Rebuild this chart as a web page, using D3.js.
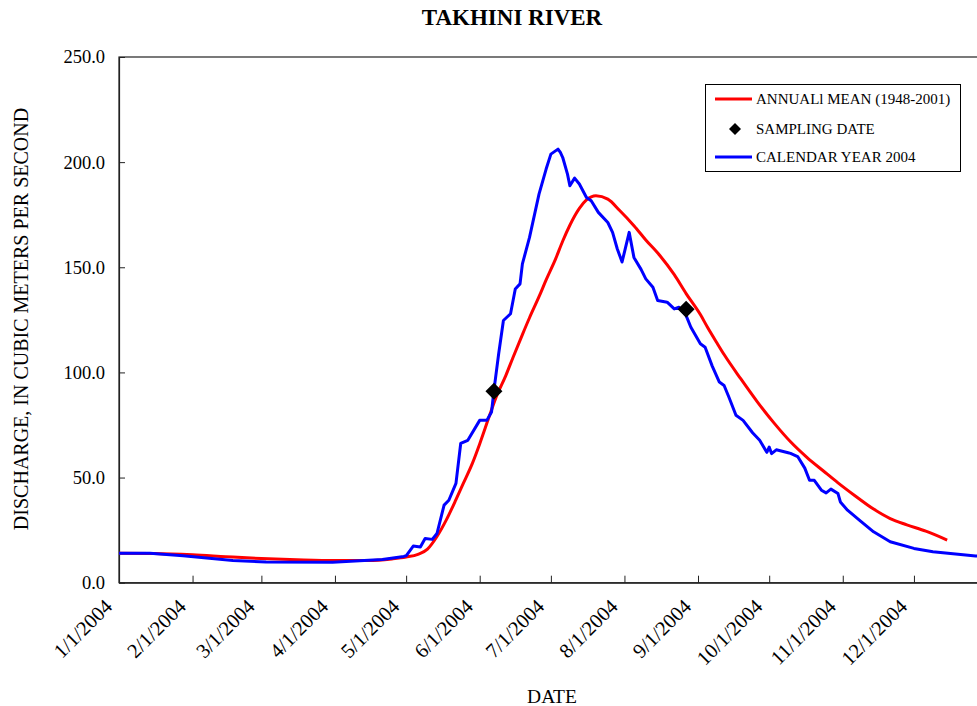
<!DOCTYPE html>
<html>
<head>
<meta charset="utf-8">
<script src="https://cdn.jsdelivr.net/npm/d3@7"></script>
<style>
  html, body { margin: 0; padding: 0; background: #fff; }
  svg { display: block; }
  text { font-family: "Liberation Serif", "Times New Roman", serif; fill: #000; }
</style>
</head>
<body>
<div id="chart"></div>
<script>
// Daily discharge, Takhini River. Days are counted from January 1, 2004 (day 0).
const meanDays = [0, 15, 31, 45, 60, 75, 91, 105, 115, 121, 126, 130, 134, 138, 142, 145, 149, 152, 156, 159,
  163, 166, 170, 173, 177, 180, 184, 187, 190, 194, 197, 201, 206, 211, 217, 222, 228, 234, 239, 245,
  248, 252, 255, 262, 269, 276, 283, 290, 297, 303, 310, 318, 325, 332, 340, 349];
const meanValues = [14.0, 13.9, 13.3, 12.4, 11.5, 10.9, 10.5, 10.5, 11.3, 12.2, 13.5, 16, 22, 30, 39.5, 47, 57, 66, 79, 88.5,
  98.5, 107, 118, 126, 136, 144, 154, 162.5, 170, 178, 182, 184, 182.4, 177, 169.8, 163, 155.5, 146.5, 137.5, 127.5,
  121.5, 114, 108.5, 97, 86, 76, 67, 59.5, 53, 47.5, 41.5, 35, 30.5, 27.5, 24.5, 20.3];

const yearDays = [0, 13, 27, 48, 62, 90, 111, 120, 121, 124, 127, 129, 132, 134, 137, 139, 142, 144, 147, 152,
  155, 157, 158, 160, 162, 165, 167, 169, 170, 173, 177, 180, 182, 185, 186, 187, 189, 190, 192, 194,
  197, 199, 202, 206, 208, 210, 212, 215, 217, 220, 222, 225, 227, 231, 234, 236, 239, 241, 245, 247,
  250, 253, 255, 257, 260, 263, 267, 270, 273, 274, 275, 277, 282, 283, 286, 289, 291, 293, 296, 298,
  300, 303, 304, 307, 312, 318, 325, 335, 343, 361, 365];
const yearValues = [14.0, 14.0, 12.8, 10.6, 9.8, 9.7, 11.0, 12.5, 12.8, 17.4, 17.0, 21.0, 20.6, 23.4, 36.9, 39.2, 47.2, 66.2, 67.7, 77.2,
  77.2, 81.2, 91.5, 108.9, 124.7, 127.9, 139.7, 142.1, 151.6, 164.2, 184.8, 196.7, 203.8, 206.2, 204.6, 202.2, 194.3, 188.8, 192.4, 189.6,
  183.2, 181.6, 176.1, 171.3, 166.6, 158.7, 152.5, 166.6, 154.7, 149.0, 144.5, 140.5, 134.2, 133.4, 130.2, 131.0, 127.0, 121.5, 113.6, 112.0,
  103.0, 95.4, 93.8, 88.3, 79.6, 77.2, 71.3, 67.7, 62.0, 64.5, 61.4, 63.2, 61.8, 61.5, 60.0, 54.5, 48.7, 48.7, 44.0, 42.7,
  44.5, 42.4, 38.4, 34.5, 29.8, 24.2, 19.5, 16.3, 14.7, 12.7, 12.5];

const sampleDays = [158, 239];
const sampleValues = [91, 130];

const yTicks = [0, 50, 100, 150, 200, 250];
const monthTicks = ["2004-01-01", "2004-02-01", "2004-03-01", "2004-04-01", "2004-05-01", "2004-06-01",
  "2004-07-01", "2004-08-01", "2004-09-01", "2004-10-01", "2004-11-01", "2004-12-01"];

const legendLabels = ["ANNUALl MEAN (1948-2001)", "SAMPLING DATE", "CALENDAR YEAR 2004"];

const W = 977, H = 706;
const plotLeft = 119, plotRight = 987.5, plotTop = 57, plotBottom = 582.7;

const parse = d3.timeParse("%Y-%m-%d");
const start = parse("2004-01-01");
const dayToDate = d => d3.timeDay.offset(start, d);

const x = d3.scaleTime().domain([start, parse("2005-01-01")]).range([plotLeft, plotRight]);
const y = d3.scaleLinear().domain([0, 250]).range([plotBottom, plotTop]);

const svg = d3.select("#chart").append("svg").attr("width", W).attr("height", H);

// Plot frame
svg.append("rect")
  .attr("x", plotLeft).attr("y", plotTop)
  .attr("width", plotRight - plotLeft).attr("height", plotBottom - plotTop)
  .attr("fill", "none").attr("stroke", "#222").attr("stroke-width", 1.2);

// Y axis
const yAxis = d3.axisLeft(y).tickValues(yTicks).tickFormat(d3.format(".1f")).tickSizeInner(-6).tickSizeOuter(0).tickPadding(14);
const gy = svg.append("g").attr("transform", `translate(${plotLeft},0)`).call(yAxis);
gy.select(".domain").attr("stroke", "#222").attr("stroke-width", 1.2);
gy.selectAll(".tick line").attr("stroke", "#222");
gy.selectAll(".tick text").attr("font-family", "Liberation Serif").attr("font-size", 18.5).attr("fill", "#000");

// X axis
const xAxis = d3.axisBottom(x).tickValues(monthTicks.map(parse)).tickFormat(d3.timeFormat("%-m/%-d/%Y")).tickSizeInner(-7).tickSizeOuter(0);
const gx = svg.append("g").attr("transform", `translate(0,${plotBottom})`).call(xAxis);
gx.select(".domain").attr("stroke", "#222").attr("stroke-width", 1.2);
gx.selectAll(".tick line").attr("stroke", "#222");
gx.selectAll(".tick text")
  .attr("font-family", "Liberation Serif").attr("font-size", 20.5).attr("fill", "#000")
  .attr("text-anchor", "end")
  .attr("x", 0).attr("y", 0).attr("dy", "0.35em")
  .attr("transform", "translate(-11,20) rotate(-45)");

// Lines
const line = d3.line().x(d => x(dayToDate(d[0]))).y(d => y(d[1]));

svg.append("path")
  .datum(meanDays.map((d, i) => [d, meanValues[i]]))
  .attr("fill", "none").attr("stroke", "#ff0000").attr("stroke-width", 3)
  .attr("stroke-linejoin", "round")
  .attr("d", line.curve(d3.curveMonotoneX));

svg.append("path")
  .datum(yearDays.map((d, i) => [d, yearValues[i]]))
  .attr("fill", "none").attr("stroke", "#0000ff").attr("stroke-width", 3)
  .attr("stroke-linejoin", "round")
  .attr("d", line.curve(d3.curveLinear));

// Sampling dates
const diamond = s => `M0,${-s}L${s},0L0,${s}L${-s},0Z`;
svg.selectAll(".sample")
  .data(sampleDays.map((d, i) => [d, sampleValues[i]]))
  .join("path")
  .attr("class", "sample")
  .attr("transform", d => `translate(${x(dayToDate(d[0]))},${y(d[1])})`)
  .attr("d", diamond(8.5))
  .attr("fill", "#000");

// Titles
svg.append("text").attr("x", 512).attr("y", 25).attr("text-anchor", "middle")
  .attr("font-size", 23).attr("font-weight", "bold").text("TAKHINI RIVER");
svg.append("text").attr("x", 552).attr("y", 703).attr("text-anchor", "middle")
  .attr("font-size", 19.5).text("DATE");
svg.append("text").attr("transform", "translate(28,319) rotate(-90)").attr("text-anchor", "middle")
  .attr("font-size", 20).text("DISCHARGE, IN CUBIC METERS PER SECOND");

// Legend
const lg = svg.append("g");
lg.append("rect").attr("x", 705.5).attr("y", 84.5).attr("width", 255).attr("height", 87)
  .attr("fill", "#fff").attr("stroke", "#000").attr("stroke-width", 1);
const rowsY = [99, 129, 157];
lg.append("line").attr("x1", 715).attr("x2", 752).attr("y1", rowsY[0]).attr("y2", rowsY[0])
  .attr("stroke", "#ff0000").attr("stroke-width", 3);
lg.append("path").attr("transform", `translate(735,${rowsY[1]})`).attr("d", diamond(6)).attr("fill", "#000");
lg.append("line").attr("x1", 715).attr("x2", 752).attr("y1", rowsY[2]).attr("y2", rowsY[2])
  .attr("stroke", "#0000ff").attr("stroke-width", 3);
lg.selectAll(".lt").data(legendLabels).join("text")
  .attr("class", "lt")
  .attr("x", 756).attr("y", (d, i) => rowsY[i]).attr("dy", "0.35em")
  .attr("font-size", 15).text(d => d);
</script>
</body>
</html>
